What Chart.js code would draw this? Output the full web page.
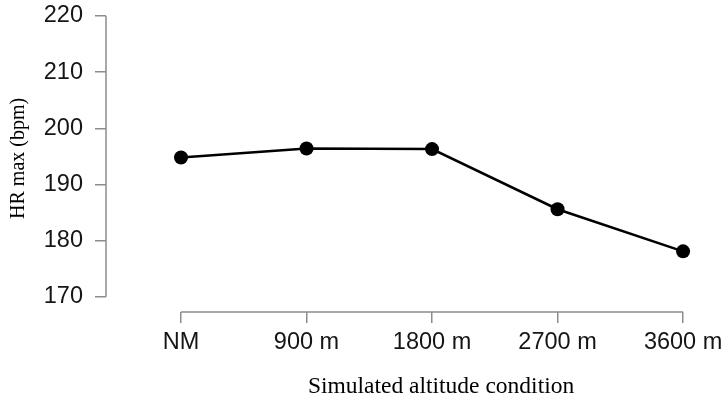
<!DOCTYPE html>
<html>
<head>
<meta charset="utf-8">
<script src="https://cdn.jsdelivr.net/npm/chart.js@4/dist/chart.umd.min.js"></script>
<style>
  html, body { margin: 0; padding: 0; background: #fff; }
  #wrap { width: 727px; height: 399px; }
</style>
</head>
<body>
<div id="wrap"><canvas id="c" width="727" height="399"></canvas></div>
<script>
const categories = ["NM", "900 m", "1800 m", "2700 m", "3600 m"];
const hrMax = [194.8, 196.4, 196.3, 185.6, 178.1];
const yTickValues = [170, 180, 190, 200, 210, 220];
const yTitle = "HR max (bpm)";
const xTitle = "Simulated altitude condition";

const AXIS_GRAY = "#8c8c8c";
const SERIF = "'Liberation Serif', 'Times New Roman', serif";
const SANS = "'Liberation Sans', Arial, sans-serif";

const axisDecor = {
  id: "axisDecor",
  afterDraw(chart) {
    const ctx = chart.ctx;
    const xs = chart.scales.x, ys = chart.scales.y;
    const left = chart.chartArea.left, bottom = chart.chartArea.bottom;
    ctx.save();
    ctx.strokeStyle = AXIS_GRAY;
    ctx.lineWidth = 1.5;
    ctx.beginPath();
    ctx.moveTo(left, ys.getPixelForValue(yTickValues[0]));
    ctx.lineTo(left, ys.getPixelForValue(yTickValues[yTickValues.length - 1]));
    ctx.moveTo(xs.getPixelForValue(0), bottom);
    ctx.lineTo(xs.getPixelForValue(categories.length - 1), bottom);
    ctx.stroke();

    // axis titles (R-style placement)
    ctx.fillStyle = "#000";
    ctx.textAlign = "center";
    ctx.textBaseline = "alphabetic";
    ctx.font = "23.5px " + SERIF;
    const xMid = (xs.getPixelForValue(0) + xs.getPixelForValue(categories.length - 1)) / 2 + 9;
    ctx.fillText(xTitle, xMid, 393);

    ctx.translate(24, (ys.getPixelForValue(yTickValues[0]) + ys.getPixelForValue(yTickValues[yTickValues.length - 1])) / 2 + 2);
    ctx.rotate(-Math.PI / 2);
    ctx.font = "20px " + SERIF;
    ctx.fillText(yTitle, 0, 0);
    ctx.restore();
  }
};

new Chart(document.getElementById("c"), {
  type: "line",
  data: {
    datasets: [{
      data: hrMax.map((v, i) => ({ x: i, y: v })),
      borderColor: "#000",
      borderWidth: 2.5,
      pointRadius: 7,
      pointBackgroundColor: "#000",
      pointBorderWidth: 0,
      tension: 0,
      clip: false
    }]
  },
  options: {
    responsive: false,
    animation: false,
    events: [],
    layout: { autoPadding: false, padding: { left: 0, right: 0, top: 16, bottom: 0 } },
    plugins: { legend: { display: false }, tooltip: { enabled: false } },
    scales: {
      x: {
        type: "linear",
        min: -0.5976,
        max: 4.35,
        afterBuildTicks: s => { s.ticks = categories.map((_, i) => ({ value: i })); },
        afterFit: s => { s.height = 87; s.paddingLeft = 0; s.paddingRight = 0; },
        border: { display: false },
        grid: { drawOnChartArea: false, drawTicks: true, tickLength: 11, color: AXIS_GRAY, lineWidth: 1.5 },
        ticks: {
          autoSkip: false, maxRotation: 0, minRotation: 0, padding: 5,
          color: "#151515",
          font: { family: SANS, size: 23.5 },
          callback: v => categories[v]
        }
      },
      y: {
        type: "linear",
        min: 167.3,
        max: 220,
        afterBuildTicks: s => { s.ticks = yTickValues.map(v => ({ value: v })); },
        afterFit: s => { s.width = 106; s.paddingTop = 0; s.paddingBottom = 0; },
        border: { display: false },
        grid: { drawOnChartArea: false, drawTicks: true, tickLength: 11, color: AXIS_GRAY, lineWidth: 1.5 },
        ticks: {
          padding: 12, color: "#151515",
          font: { family: SANS, size: 23.5 },
          callback: v => String(v)
        }
      }
    }
  },
  plugins: [axisDecor]
});
</script>
</body>
</html>
